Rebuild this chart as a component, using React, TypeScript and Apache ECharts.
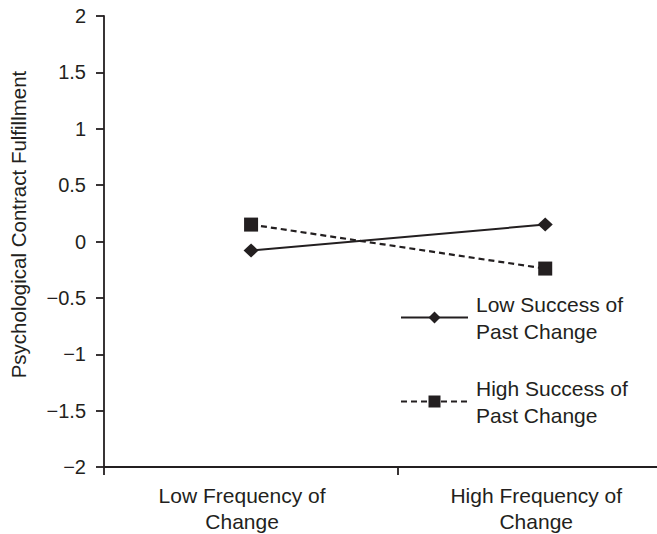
import React, { useEffect, useRef } from "react";
import * as echarts from "echarts";

const xPositions = [0.5, 1.5];
const categoryLabels = ["Low Frequency of\nChange", "High Frequency of\nChange"];
const xTicks = [0, 1];
const seriesNames = ["Low Success of Past Change", "High Success of Past Change"];
const lowSuccess = [-0.08, 0.15];
const highSuccess = [0.15, -0.24];
const yAxisName = "Psychological Contract Fulfillment";

const INK = "#231f20";
const FONT = "'Liberation Sans', Arial, Helvetica, sans-serif";

export default function App() {
  const ref = useRef<HTMLDivElement>(null);
  useEffect(() => {
    document.body.style.margin = "0";
    const chart = echarts.init(ref.current!, undefined, { renderer: "svg" });
    const toPairs = (vals: number[]) => vals.map((v, i) => [xPositions[i], v]);
    chart.setOption({
      animation: false,
      backgroundColor: "#ffffff",
      textStyle: { fontFamily: FONT, color: INK },
      grid: { left: 102, right: 0, top: 16, bottom: 67, containLabel: false },
      legend: {
        orient: "vertical",
        left: 400,
        top: 277,
        padding: 0,
        itemWidth: 67,
        itemHeight: 15,
        itemGap: 3,
        selectedMode: false,
        data: seriesNames,
        formatter: (n: string) => n.replace(" Past", "\nPast"),
        textStyle: {
          fontFamily: FONT,
          fontSize: 21,
          color: INK,
          lineHeight: 27,
          padding: [27, 0, 0, 3],
        },
      },
      xAxis: {
        type: "value",
        min: 0,
        max: 1.88,
        interval: 1,
        splitLine: { show: false },
        axisLine: { show: true, onZero: false, lineStyle: { color: INK, width: 1.8 } },
        axisTick: {
          show: true,
          length: 8,
          customValues: xTicks,
          lineStyle: { color: INK, width: 1.8 },
        },
        axisLabel: {
          show: true,
          customValues: xPositions,
          formatter: (v: number) => {
            const i = xPositions.indexOf(v);
            return i >= 0 ? categoryLabels[i] : "";
          },
          fontFamily: FONT,
          fontSize: 21,
          color: INK,
          lineHeight: 26,
          margin: 15,
          padding: [0, 18, 0, 0],
        },
      },
      yAxis: {
        type: "value",
        min: -2,
        max: 2,
        interval: 0.5,
        name: yAxisName,
        nameLocation: "middle",
        nameGap: 75,
        nameTextStyle: {
          fontFamily: FONT,
          fontSize: 20.5,
          color: INK,
          padding: [0, 0, 0, 34],
        },
        splitLine: { show: false },
        axisLine: { show: true, onZero: false, lineStyle: { color: INK, width: 1.8 } },
        axisTick: { show: true, length: 8, lineStyle: { color: INK, width: 1.8 } },
        axisLabel: {
          fontFamily: FONT,
          fontSize: 20,
          color: INK,
          margin: 18,
          formatter: (v: number) => String(v).replace("-", "\u2212"),
        },
      },
      series: [
        {
          name: seriesNames[0],
          type: "line",
          data: toPairs(lowSuccess),
          symbol: "diamond",
          symbolSize: [15, 14],
          lineStyle: { color: INK, width: 2, type: "solid" },
          itemStyle: { color: INK },
        },
        {
          name: seriesNames[1],
          type: "line",
          data: toPairs(highSuccess),
          symbol: "rect",
          symbolSize: 14,
          lineStyle: { color: INK, width: 2.2, type: [6, 4] },
          itemStyle: { color: INK },
        },
      ],
    });
    return () => chart.dispose();
  }, []);
  return (
    <div
      ref={ref}
      style={{ width: 657, height: 534, position: "absolute", left: 0, top: 0 }}
    />
  );
}
